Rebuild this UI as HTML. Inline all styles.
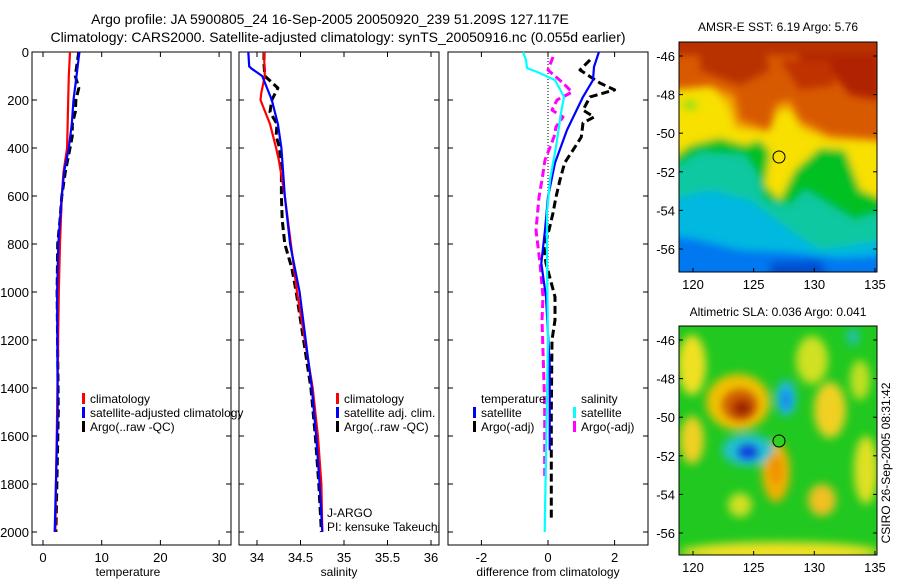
<!DOCTYPE html>
<html><head><meta charset="utf-8">
<style>
html,body{margin:0;padding:0;background:#fff;}
svg{display:block;font-family:"Liberation Sans",sans-serif;}
text{fill:#000;}
</style></head>
<body>
<svg id="fig" width="900" height="580" viewBox="0 0 900 580">
<defs>
<filter id="blur3" x="-20%" y="-20%" width="140%" height="140%"><feGaussianBlur stdDeviation="4"/></filter>
<filter id="blur6" x="-50%" y="-50%" width="200%" height="200%"><feGaussianBlur stdDeviation="4.5"/></filter>
<clipPath id="clipSST"><rect x="679" y="42" width="198" height="230"/></clipPath>
<clipPath id="clipSLA"><rect x="679" y="326" width="198" height="229"/></clipPath>
</defs>
<text x="330" y="24" font-size="14" text-anchor="middle">Argo profile: JA 5900805_24 16-Sep-2005 20050920_239 51.209S 127.117E</text>
<text x="338" y="42" font-size="14" text-anchor="middle">Climatology: CARS2000. Satellite-adjusted climatology: synTS_20050916.nc (0.055d earlier)</text>

<!-- SST map -->
<g clip-path="url(#clipSST)">
<rect x="679" y="42" width="198" height="230" fill="#d85a00"/>
<g filter="url(#blur3)">
<path d="M700,35 L760,35 L770,70 L740,85 L700,70 Z" fill="#b83000"/>
<path d="M790,35 L880,35 L880,100 L850,95 L830,70 L800,60 Z" fill="#b02000"/>
<path d="M780,60 L830,60 L835,85 L800,90 Z" fill="#c03000"/>
<path d="M670,35 L885,35 L885,55 L670,55 Z" fill="#b83000"/>
<path d="M670,90 L710,85 L735,95 L740,120 L770,130 L775,105 L790,100 L800,120 L830,135 L885,140 L885,280 L670,280 Z" fill="#f0a000"/>
<path d="M670,90 L712,88 L728,105 L735,128 L768,133 L778,112 L790,110 L800,128 L830,140 L885,142 L885,280 L670,280 Z" fill="#f8e000"/>
<path d="M670,160 L690,145 L720,138 L745,145 L760,140 L770,152 L765,185 L780,200 L795,170 L820,148 L845,150 L860,190 L885,200 L885,280 L670,280 Z" fill="#00c020"/>
<path d="M670,170 L700,152 L745,155 L758,175 L765,200 L790,205 L805,190 L830,205 L855,220 L885,210 L885,280 L670,280 Z" fill="#10c8a0"/>
<path d="M670,200 L710,190 L750,200 L770,215 L790,230 L820,250 L885,240 L885,280 L670,280 Z" fill="#00b8e0"/>
<path d="M670,235 L700,240 L740,250 L790,252 L840,258 L885,255 L885,280 L670,280 Z" fill="#0078f0"/>
<path d="M770,262 L820,260 L830,280 L770,280 Z" fill="#0050d0"/>
<ellipse cx="690" cy="105" rx="8" ry="6" fill="#a0e010"/>
</g>
</g>
<rect x="679" y="42" width="198" height="230" fill="none" stroke="#000"/>
<circle cx="779" cy="157" r="6" fill="none" stroke="#000"/>
<text x="778" y="31" font-size="12" text-anchor="middle">AMSR-E SST: 6.19 Argo: 5.76</text>

<!-- SLA map -->
<g clip-path="url(#clipSLA)">
<rect x="679" y="326" width="198" height="229" fill="#20c820"/>
<g filter="url(#blur6)">
<ellipse cx="692" cy="365" rx="14" ry="30" fill="#f0e020"/>
<ellipse cx="692" cy="440" rx="12" ry="24" fill="#f0d020"/>
<ellipse cx="738" cy="402" rx="32" ry="28" fill="#f0c000"/>
<ellipse cx="830" cy="410" rx="16" ry="28" fill="#f0d020"/>
<ellipse cx="812" cy="360" rx="16" ry="24" fill="#d0e020"/>
<ellipse cx="776" cy="472" rx="14" ry="30" fill="#f0b000"/>
<ellipse cx="822" cy="500" rx="14" ry="16" fill="#f0c020"/>
<ellipse cx="866" cy="470" rx="12" ry="34" fill="#e0e020"/>
<ellipse cx="780" cy="552" rx="100" ry="10" fill="#f0e020"/>
<ellipse cx="740" cy="505" rx="12" ry="12" fill="#d0e020"/>
<ellipse cx="860" cy="380" rx="10" ry="20" fill="#c0e020"/>
<ellipse cx="748" cy="450" rx="26" ry="16" fill="#20c0d0"/>
<ellipse cx="786" cy="398" rx="10" ry="18" fill="#20b8e0"/>
<ellipse cx="853" cy="337" rx="6" ry="8" fill="#20c0c0"/>
</g>
<g filter="url(#blur3)">
<ellipse cx="740" cy="405" rx="18" ry="16" fill="#d06000"/>
<ellipse cx="742" cy="408" rx="10" ry="9" fill="#a02800"/>
<ellipse cx="748" cy="452" rx="10" ry="7" fill="#1040e0"/>
<ellipse cx="786" cy="400" rx="4" ry="9" fill="#1080f0"/>
<ellipse cx="776" cy="470" rx="6" ry="14" fill="#f09000"/>
</g>
</g>
<rect x="679" y="326" width="198" height="229" fill="none" stroke="#000"/>
<circle cx="779" cy="441" r="6" fill="#30d020" stroke="#000"/>
<text x="778" y="316" font-size="12" text-anchor="middle">Altimetric SLA: 0.036 Argo: 0.041</text>
<text x="0" y="0" font-size="12" text-anchor="middle" transform="translate(890,463) rotate(-90)">CSIRO 26-Sep-2005 08:31:42</text>
<g id="maps"></g>
<g id="plots"></g>
</svg>
<script>
// ---------- data ----------
const depthTick = [0,200,400,600,800,1000,1200,1400,1600,1800,2000];
const tempTicks = [0,10,20,30];
const salTicks = [34,34.5,35,35.5,36];
const salTickLabels = ["34","34.5","35","35.5","36"];
const diffTicks = [-2,0,2];
const lonTicks = [120,125,130,135];
const latTicks = [-46,-48,-50,-52,-54,-56];

const tClimD = [0,100,200,400,500,600,800,1000,1500,2000];
const tClimV = [4.6,4.4,4.3,4.1,3.5,3.2,2.9,2.7,2.4,2.1];
const tSatD = [0,100,200,300,400,500,600,700,800,1000,1500,2000];
const tSatV = [6.2,5.7,5.2,4.9,4.4,3.6,3.2,2.9,2.6,2.4,2.5,2.0];
const tArgoD = [0,50,100,150,200,250,300,350,400,500,600,700,800,1000,1500,2000];
const tArgoV = [6.1,5.8,5.5,6.1,5.6,5.5,5.0,5.0,4.6,3.8,3.2,2.9,2.5,2.4,2.6,2.2];

const sClimD = [0,100,170,200,300,400,450,600,800,1000,1400,1600,1800,2000];
const sClimV = [34.08,34.09,34.05,34.04,34.15,34.22,34.25,34.32,34.39,34.46,34.64,34.70,34.74,34.75];
const sSatD = [0,60,70,100,200,300,400,600,800,1000,1400,1600,1800,2000];
const sSatV = [33.90,33.91,33.94,34.06,34.17,34.24,34.28,34.32,34.38,34.49,34.63,34.68,34.72,34.75];
const sArgoD = [0,50,100,150,200,250,300,350,400,500,600,700,800,900,1000,1400,1600,1800,2000];
const sArgoV = [34.08,34.08,34.09,34.24,34.17,34.15,34.23,34.22,34.26,34.28,34.28,34.29,34.32,34.40,34.45,34.62,34.67,34.71,34.74];

const dTSatD = [0,62,117,187,325,462,604,742,880,1020,1300,1660];
const dTSatV = [1.53,1.38,1.35,1.05,0.57,0.21,0.0,-0.09,-0.2,-0.06,0.05,0.05];
const dSSatD = [0,33,67,83,117,187,254,396,533,671,880,1200,1600,2000];
const dSSatV = [-0.75,-0.66,-0.63,-0.33,0.21,0.48,0.39,0.24,0.06,-0.03,-0.03,0.0,-0.05,-0.1];
const dTArgoD = [33,75,129,158,187,242,271,296,354,396,462,533,604,671,742,812,880,1020,1117,1200,1500,1940];
const dTArgoV = [1.26,0.96,1.56,2.0,1.26,1.05,1.38,1.05,1.0,0.81,0.5,0.36,0.24,0.15,0.03,-0.12,-0.06,0.21,0.21,0.12,0.1,0.1];
const dSArgoD = [21,75,129,167,200,242,271,312,354,450,533,604,742,880,1020,1117,1470,1775];
const dSArgoV = [0.15,0.0,0.45,0.72,0.27,0.12,0.45,0.24,0.18,-0.09,-0.18,-0.27,-0.36,-0.24,-0.15,-0.18,-0.1,-0.1];

// ---------- axes ----------
const Y0=52, Y1=532, BOT=545, TOP=52;
const yD = d => Y0 + (Y1-Y0)*d/2000;
const panels = [
  {name:'temperature', x0:32, x1:231, f:v=>43+5.87*v},
  {name:'salinity', x0:239, x1:439, f:v=>257+87*(v-34)},
  {name:'difference', x0:448, x1:648, f:v=>548+33.3*v}
];
const NS='http://www.w3.org/2000/svg';
const plots=document.getElementById('plots');
function mk(tag, attrs, parent){const e=document.createElementNS(NS,tag);for(const k in attrs)e.setAttribute(k,attrs[k]);(parent||plots).appendChild(e);return e;}
function txt(x,y,s,anchor,size,parent){const t=mk('text',{x:x,y:y,'font-size':size||12,'text-anchor':anchor||'middle'},parent);t.textContent=s;return t;}

panels.forEach((p,i)=>{
  const g=mk('g',{});
  
  
  const fr=mk('rect',{x:p.x0,y:TOP,width:p.x1-p.x0,height:BOT-TOP,fill:'none',stroke:'#000','stroke-width':1},g);
  
  
  depthTick.forEach(d=>{
    mk('line',{x1:p.x0,x2:p.x0+5,y1:yD(d),y2:yD(d),stroke:'#000'},g);
    mk('line',{x1:p.x1-5,x2:p.x1,y1:yD(d),y2:yD(d),stroke:'#000'},g);
    if(i===0){const t=txt(p.x0-3,yD(d)+5,String(d),'end',13,g);
      
      }
  });
});
function xticks(pi, vals, labels){
  const p=panels[pi];
  vals.forEach((v,k)=>{
    const x=p.f(v);
    mk('line',{x1:x,x2:x,y1:BOT,y2:BOT-5,stroke:'#000'});
    mk('line',{x1:x,x2:x,y1:TOP,y2:TOP+5,stroke:'#000'});
    const t=txt(x,BOT+17,labels?labels[k]:String(v),'middle',13);
    
    
  });
}
xticks(0,tempTicks);
xticks(1,salTicks,salTickLabels);
xticks(2,diffTicks);
[['temperature',128],['salinity',339],['difference from climatology',548]].forEach(a=>{
  const t=txt(a[1],576,a[0],'middle',12);
  
  
});
const zl=mk('line',{x1:panels[2].f(0),x2:panels[2].f(0),y1:yD(0),y2:yD(1000),stroke:'#000','stroke-dasharray':'1,2'});



function series(pi, D, V, color, dashed, name){
  const p=panels[pi];
  const pts=D.map((d,k)=>p.f(V[k]).toFixed(1)+','+yD(d).toFixed(1)).join(' ');
  const l=mk('polyline',{points:pts,fill:'none',stroke:color,'stroke-width':dashed?3:2.2,'stroke-dasharray':dashed?'8,4':'none','stroke-linejoin':'round'});
  
  
}
series(0,tArgoD,tArgoV,'#000',true,'temp-argo-line');
series(0,tClimD,tClimV,'#ff0000',false,'temp-climatology-line');
series(0,tSatD,tSatV,'#0000ff',false,'temp-satellite-line');
series(1,sArgoD,sArgoV,'#000',true,'sal-argo-line');
series(1,sClimD,sClimV,'#ff0000',false,'sal-climatology-line');
series(1,sSatD,sSatV,'#0000ff',false,'sal-satellite-line');
series(2,dTArgoD,dTArgoV,'#000',true,'diff-temp-argo-line');
series(2,dSArgoD,dSArgoV,'#ff00ff',true,'diff-sal-argo-line');
series(2,dTSatD,dTSatV,'#0000ff',false,'diff-temp-satellite-line');
series(2,dSSatD,dSSatV,'#00ffff',false,'diff-sal-satellite-line');

function legend(x,y,items){
  items.forEach((it,k)=>{
    const yy=y+k*14;
    if(it[1]){const m=mk('rect',{x:x,y:yy-10,width:3,height:11,fill:it[1]});
      
      }
    const t=txt(x+8,yy,it[0],'start',12);
    
    
  });
}
legend(82,403,[['climatology','#ff0000'],['satellite-adjusted climatology','#0000ff'],['Argo(..raw -QC)','#000']]);
legend(336,403,[['climatology','#ff0000'],['satellite adj. clim.','#0000ff'],['Argo(..raw -QC)','#000']]);
legend(473,403,[['temperature',null],['satellite','#0000ff'],['Argo(-adj)','#000']]);
legend(573,403,[['salinity',null],['satellite','#00ffff'],['Argo(-adj)','#ff00ff']]);
let t1=txt(327,517,'J-ARGO','start',12);  
let t2=txt(327,531,'PI: kensuke Takeuchi','start',12);  

// ---------- map axes ----------
const maps=document.getElementById('maps');
const lonX = lon => 693 + (lon-120)*12.13;
[[56,272],[340,555]].forEach(([lat46,bottom])=>{
  const latY = lat => lat46 + (-46-lat)*19.3;
  lonTicks.forEach(l=>{
    mk('line',{x1:lonX(l),x2:lonX(l),y1:bottom,y2:bottom-4,stroke:'#000'},maps);
    const t=txt(lonX(l),bottom+17,String(l),'middle',13,maps);
    
    
  });
  latTicks.forEach(l=>{
    mk('line',{x1:679,x2:683,y1:latY(l),y2:latY(l),stroke:'#000'},maps);
    mk('line',{x1:873,x2:877,y1:latY(l),y2:latY(l),stroke:'#000'},maps);
    const t=txt(675,latY(l)+5,String(l),'end',13,maps);
    
    
  });
});
</script>
</body></html>
